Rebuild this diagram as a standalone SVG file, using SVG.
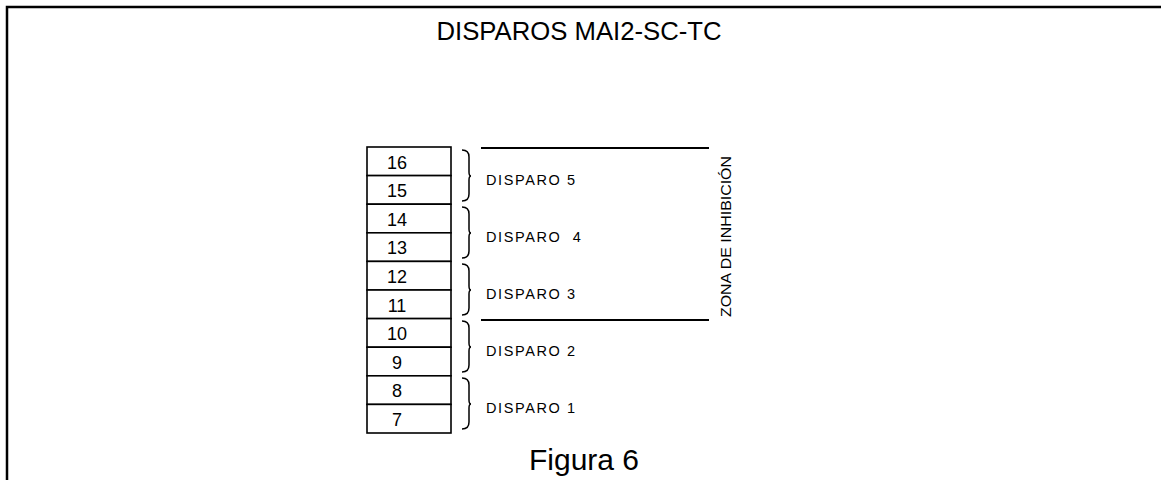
<svg xmlns="http://www.w3.org/2000/svg" width="1161" height="480" viewBox="0 0 1161 480">
<style>
.frame{stroke:#000;stroke-width:2.5;fill:none}
.box{fill:#fff;stroke:#000;stroke-width:1.6}
.num{font-family:"Liberation Sans",Arial,sans-serif;font-size:18px;text-anchor:middle;fill:#000}
.lbl{font-family:"Liberation Sans",Arial,sans-serif;font-size:14.5px;letter-spacing:1.6px;fill:#000;white-space:pre}
.brace{fill:none;stroke:#000;stroke-width:1.5}
.hl{stroke:#000;stroke-width:2}
</style>
<rect width="1161" height="480" fill="#fff"/>
<path class="frame" d="M7,480 V7 H1161"/>
<text x="579" y="40" font-family="Liberation Sans, Arial, sans-serif" font-size="26" text-anchor="middle" textLength="285" lengthAdjust="spacingAndGlyphs">DISPAROS MAI2-SC-TC</text>
<g id="register">
<g id="cell16"><rect class="box" x="367" y="147" width="84" height="28.6"/><text class="num" x="397" y="168.5">16</text></g>
<g id="cell15"><rect class="box" x="367" y="175.6" width="84" height="28.6"/><text class="num" x="397" y="197.1">15</text></g>
<g id="cell14"><rect class="box" x="367" y="204.2" width="84" height="28.6"/><text class="num" x="397" y="225.7">14</text></g>
<g id="cell13"><rect class="box" x="367" y="232.8" width="84" height="28.6"/><text class="num" x="397" y="254.3">13</text></g>
<g id="cell12"><rect class="box" x="367" y="261.4" width="84" height="28.6"/><text class="num" x="397" y="282.9">12</text></g>
<g id="cell11"><rect class="box" x="367" y="290" width="84" height="28.6"/><text class="num" x="397" y="311.5">11</text></g>
<g id="cell10"><rect class="box" x="367" y="318.6" width="84" height="28.6"/><text class="num" x="397" y="340.1">10</text></g>
<g id="cell9"><rect class="box" x="367" y="347.2" width="84" height="28.6"/><text class="num" x="397" y="368.7">9</text></g>
<g id="cell8"><rect class="box" x="367" y="375.8" width="84" height="28.6"/><text class="num" x="397" y="397.3">8</text></g>
<g id="cell7"><rect class="box" x="367" y="404.4" width="84" height="28.6"/><text class="num" x="397" y="425.9">7</text></g>
</g>
<g id="braces">
<path class="brace" d="M462,150 Q469,150 469,157 L469,172 Q469,176 471,176 Q469,176 469,180 L469,194 Q469,201 462,201"/>
<path class="brace" d="M462,207 Q469,207 469,214 L469,229 Q469,233 471,233 Q469,233 469,237 L469,251 Q469,258 462,258"/>
<path class="brace" d="M462,264 Q469,264 469,271 L469,286 Q469,290 471,290 Q469,290 469,294 L469,308 Q469,315 462,315"/>
<path class="brace" d="M462,321 Q469,321 469,328 L469,343 Q469,347 471,347 Q469,347 469,351 L469,365 Q469,372 462,372"/>
<path class="brace" d="M462,378 Q469,378 469,385 L469,400 Q469,404 471,404 Q469,404 469,408 L469,422 Q469,429 462,429"/>
</g>
<g id="labels">
<text class="lbl" x="486" y="185">DISPARO 5</text>
<text class="lbl" x="486" y="242">DISPARO  4</text>
<text class="lbl" x="486" y="299">DISPARO 3</text>
<text class="lbl" x="486" y="356">DISPARO 2</text>
<text class="lbl" x="486" y="413">DISPARO 1</text>
</g>
<g id="inhibition">
<line class="hl" x1="481" y1="148" x2="709" y2="148"/>
<line class="hl" x1="481" y1="320" x2="709" y2="320"/>
<text x="0" y="0" transform="translate(731,317) rotate(-90)" font-family="Liberation Sans, Arial, sans-serif" font-size="15" textLength="161" lengthAdjust="spacingAndGlyphs">ZONA DE INHIBICIÓN</text>
</g>
<text x="584" y="470" font-family="Liberation Sans, Arial, sans-serif" font-size="30" text-anchor="middle">Figura 6</text>
</svg>
